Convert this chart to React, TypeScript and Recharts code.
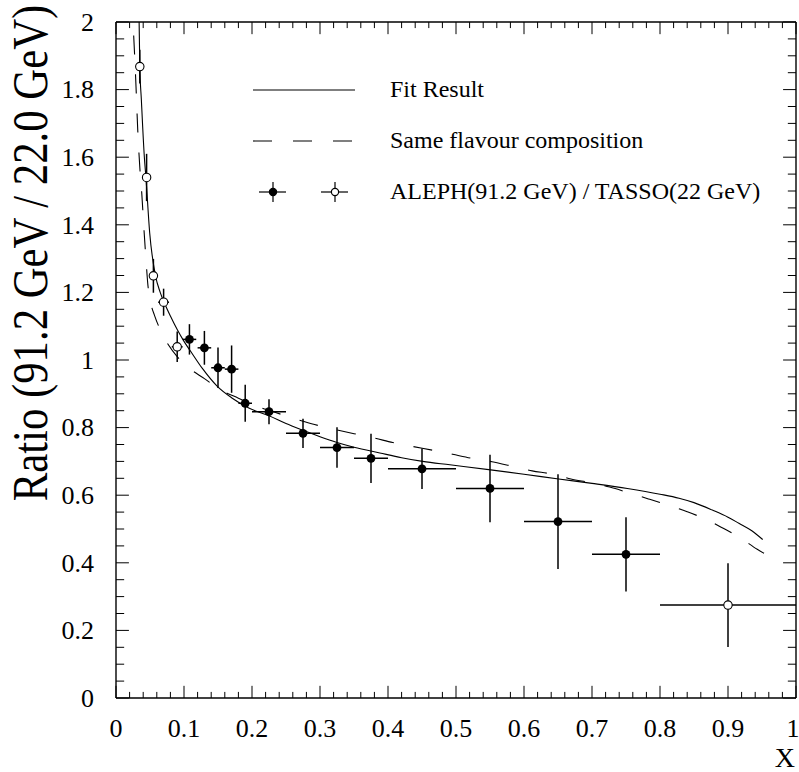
import {
  ComposedChart,
  Line,
  Scatter,
  XAxis,
  YAxis,
  ErrorBar,
  Legend,
  ReferenceLine,
} from "recharts";

const SERIF = "'Liberation Serif', 'Times New Roman', serif";

// axis ticks
const xMajorTicks = [0, 0.1, 0.2, 0.3, 0.4, 0.5, 0.6, 0.7, 0.8, 0.9, 1];
const xTickLabels = ["0", "0.1", "0.2", "0.3", "0.4", "0.5", "0.6", "0.7", "0.8", "0.9", "1"];
const yMajorTicks = [0, 0.2, 0.4, 0.6, 0.8, 1, 1.2, 1.4, 1.6, 1.8, 2];
const yTickLabels = ["0", "0.2", "0.4", "0.6", "0.8", "1", "1.2", "1.4", "1.6", "1.8", "2"];
const steps = (to: number, step: number) =>
  Array.from({ length: Math.round(to / step) + 1 }, (_, i) => +(i * step).toFixed(3));
const xMinorTicks = steps(1, 0.02);
const yMinorTicks = steps(2, 0.05);

// Fit Result (solid)
const fitX = [0.034, 0.035, 0.0373, 0.0417, 0.044, 0.0496, 0.058, 0.065, 0.072, 0.08, 0.09, 0.1, 0.11, 0.127, 0.149, 0.171, 0.196, 0.225, 0.25, 0.275, 0.3, 0.325, 0.35, 0.388, 0.42, 0.451, 0.491, 0.551, 0.6, 0.651, 0.7, 0.752, 0.8, 0.828, 0.85, 0.877, 0.9, 0.916, 0.935, 0.951];
const fitY = [2.0, 1.87, 1.77, 1.6, 1.54, 1.375, 1.25, 1.2, 1.165, 1.13, 1.09, 1.055, 1.025, 0.975, 0.922, 0.887, 0.857, 0.835, 0.812, 0.792, 0.773, 0.756, 0.742, 0.725, 0.711, 0.7, 0.69, 0.675, 0.662, 0.648, 0.635, 0.62, 0.603, 0.591, 0.578, 0.556, 0.535, 0.517, 0.495, 0.469];

// Same flavour composition (dashed)
const sameX = [0.026, 0.029, 0.032, 0.035, 0.038, 0.041, 0.044, 0.047, 0.051, 0.057, 0.065, 0.077, 0.09, 0.108, 0.13, 0.15, 0.18, 0.21, 0.228, 0.265, 0.292, 0.321, 0.35, 0.38, 0.407, 0.437, 0.466, 0.495, 0.524, 0.553, 0.582, 0.612, 0.64, 0.669, 0.698, 0.726, 0.754, 0.783, 0.811, 0.84, 0.866, 0.893, 0.918, 0.943, 0.953];
const sameY = [1.96, 1.83, 1.68, 1.57, 1.49, 1.39, 1.3, 1.22, 1.17, 1.13, 1.09, 1.045, 1.01, 0.975, 0.945, 0.916, 0.887, 0.861, 0.849, 0.825, 0.809, 0.795, 0.782, 0.769, 0.756, 0.744, 0.733, 0.721, 0.709, 0.699, 0.686, 0.672, 0.663, 0.648, 0.637, 0.624, 0.607, 0.589, 0.571, 0.551, 0.53, 0.502, 0.474, 0.44, 0.428];

// ALEPH / TASSO ratio (filled points)
const alephX = [0.108, 0.13, 0.15, 0.17, 0.19, 0.225, 0.275, 0.325, 0.375, 0.45, 0.55, 0.65, 0.75];
const alephY = [1.061, 1.036, 0.977, 0.973, 0.872, 0.847, 0.783, 0.741, 0.709, 0.678, 0.62, 0.522, 0.425];
const alephErrY = [0.045, 0.05, 0.06, 0.07, 0.055, 0.037, 0.043, 0.06, 0.073, 0.06, 0.1, 0.14, 0.11];
const alephErrX = [0.01, 0.01, 0.01, 0.01, 0.01, 0.025, 0.025, 0.025, 0.025, 0.05, 0.05, 0.05, 0.05];

// open points
const tassoX = [0.035, 0.045, 0.055, 0.07, 0.09, 0.9];
const tassoY = [1.868, 1.54, 1.249, 1.171, 1.039, 0.275];
const tassoErrY = [0.05, 0.07, 0.05, 0.04, 0.045, 0.124];
const tassoErrX = [0.004, 0.004, 0.005, 0.008, 0.008, 0.1];

const legendLabels = [
  "Fit Result",
  "Same flavour composition",
  "ALEPH(91.2 GeV) / TASSO(22 GeV)",
];

const fitData = fitX.map((x, i) => ({ x, y: fitY[i] }));
const sameData = sameX.map((x, i) => ({ x, y: sameY[i] }));
const alephData = alephX.map((x, i) => ({ x, y: alephY[i], ex: alephErrX[i], ey: alephErrY[i] }));
const tassoData = tassoX.map((x, i) => ({ x, y: tassoY[i], ex: tassoErrX[i], ey: tassoErrY[i] }));

// inward tick lengths, in data units (x: ~680px per unit, y: ~338px per unit)
const isMajor = (v: number, step: number) => Math.abs(v / step - Math.round(v / step)) < 1e-6;
const xTickLen = (v: number) => (isMajor(v, 0.1) ? 0.036 : 0.018);
const yTickLen = (v: number) => (isMajor(v, 0.2) ? 0.019 : 0.012);

const XLabelTick = ({ x, y, index }: any) => (
  <text x={index === xTickLabels.length - 1 ? x - 3 : x} y={y} textAnchor="middle"
    fontFamily={SERIF} fontSize={26} fill="#000">
    {xTickLabels[index]}
  </text>
);

const YLabelTick = ({ x, y, index }: any) => (
  <text x={x} y={y} dy="0.34em" textAnchor="end" fontFamily={SERIF} fontSize={26} fill="#000">
    {yTickLabels[index]}
  </text>
);

const FilledDot = ({ cx, cy }: any) => <circle cx={cx} cy={cy} r={4.4} fill="#000" />;
const OpenDot = ({ cx, cy }: any) => (
  <circle cx={cx} cy={cy} r={4.2} fill="#fff" stroke="#000" strokeWidth={1.1} />
);

const LegendIcon = ({ i }: { i: number }) => {
  if (i === 0) return <line x1={0} x2={102} y1={12} y2={12} stroke="#000" strokeWidth={1.1} />;
  if (i === 1)
    return (
      <line x1={0} x2={102} y1={12} y2={12} stroke="#000" strokeWidth={1.1} strokeDasharray="19 21" />
    );
  return (
    <g stroke="#000" strokeWidth={1.2}>
      <line x1={6} x2={33} y1={12} y2={12} />
      <line x1={20} x2={20} y1={2} y2={22} />
      <circle cx={20} cy={12} r={3.6} fill="#000" />
      <line x1={68} x2={95} y1={12} y2={12} />
      <line x1={82} x2={82} y1={2} y2={22} />
      <circle cx={82} cy={12} r={3.6} fill="#fff" />
    </g>
  );
};

const LegendBox = () => (
  <div style={{ fontFamily: SERIF, fontSize: 24, color: "#000" }}>
    {legendLabels.map((label, i) => (
      <div key={label} style={{ display: "flex", alignItems: "center", height: 51 }}>
        <svg width={137} height={24} style={{ flex: "none" }}>
          <LegendIcon i={i} />
        </svg>
        <span style={{ whiteSpace: "nowrap" }}>{label}</span>
      </div>
    ))}
  </div>
);

const frame = { stroke: "#000", strokeWidth: 1.4 };

export default function App() {
  return (
    <div style={{ position: "absolute", left: 0, top: 0, width: 799, height: 772, background: "#fff" }}>
      <ComposedChart width={799} height={772} margin={{ top: 22, right: 3, left: 0, bottom: 0 }}>
        <XAxis xAxisId="x" dataKey="x" type="number" domain={[0, 1]} allowDataOverflow
          ticks={xMajorTicks} interval={0} height={74} tickSize={0} tickMargin={39}
          tickLine={false} axisLine={false} tick={XLabelTick} />
        <YAxis yAxisId="y" dataKey="y" type="number" domain={[0, 2]} allowDataOverflow
          ticks={yMajorTicks} interval={0} width={116} tickSize={0} tickMargin={22}
          tickLine={false} axisLine={false} tick={YLabelTick} />

        {/* frame */}
        <ReferenceLine xAxisId="x" yAxisId="y" y={0} ifOverflow="visible" {...frame} />
        <ReferenceLine xAxisId="x" yAxisId="y" y={2} ifOverflow="visible" {...frame} />
        <ReferenceLine xAxisId="x" yAxisId="y" x={0} ifOverflow="visible" {...frame} />
        <ReferenceLine xAxisId="x" yAxisId="y" x={1} ifOverflow="visible" {...frame} />

        {/* inward ticks on all four sides */}
        {xMinorTicks.map((v) => (
          <ReferenceLine key={`b${v}`} xAxisId="x" yAxisId="y" ifOverflow="visible" stroke="#000" strokeWidth={1}
            segment={[{ x: v, y: 0 }, { x: v, y: xTickLen(v) }]} />
        ))}
        {xMinorTicks.map((v) => (
          <ReferenceLine key={`t${v}`} xAxisId="x" yAxisId="y" ifOverflow="visible" stroke="#000" strokeWidth={1}
            segment={[{ x: v, y: 2 }, { x: v, y: 2 - xTickLen(v) }]} />
        ))}
        {yMinorTicks.map((v) => (
          <ReferenceLine key={`l${v}`} xAxisId="x" yAxisId="y" ifOverflow="visible" stroke="#000" strokeWidth={1}
            segment={[{ x: 0, y: v }, { x: yTickLen(v), y: v }]} />
        ))}
        {yMinorTicks.map((v) => (
          <ReferenceLine key={`r${v}`} xAxisId="x" yAxisId="y" ifOverflow="visible" stroke="#000" strokeWidth={1}
            segment={[{ x: 1, y: v }, { x: 1 - yTickLen(v), y: v }]} />
        ))}

        <Legend layout="vertical" align="center" verticalAlign="middle" content={LegendBox}
          wrapperStyle={{ left: 253, top: 64, width: 530, height: 160 }} />

        <Line xAxisId="x" yAxisId="y" data={fitData} dataKey="y" type="monotone" stroke="#000"
          strokeWidth={1.1} dot={false} isAnimationActive={false} />
        <Line xAxisId="x" yAxisId="y" data={sameData} dataKey="y" type="monotone" stroke="#000"
          strokeWidth={1.1} strokeDasharray="19 20" dot={false} isAnimationActive={false} />

        <Scatter xAxisId="x" yAxisId="y" data={alephData} dataKey="y" shape={FilledDot} isAnimationActive={false}>
          <ErrorBar dataKey="ey" direction="y" width={0} stroke="#000" strokeWidth={1.5} isAnimationActive={false} />
          <ErrorBar dataKey="ex" direction="x" width={0} stroke="#000" strokeWidth={1.5} isAnimationActive={false} />
        </Scatter>
        <Scatter xAxisId="x" yAxisId="y" data={tassoData} dataKey="y" shape={OpenDot} isAnimationActive={false}>
          <ErrorBar dataKey="ey" direction="y" width={0} stroke="#000" strokeWidth={1.5} isAnimationActive={false} />
          <ErrorBar dataKey="ex" direction="x" width={0} stroke="#000" strokeWidth={1.5} isAnimationActive={false} />
        </Scatter>
      </ComposedChart>

      <svg width={799} height={772} style={{ position: "absolute", left: 0, top: 0, pointerEvents: "none" }}>
        <text transform="translate(47,253) rotate(-90) scale(0.855,1)" textAnchor="middle"
          fontFamily={SERIF} fontSize={50} fill="#000">
          Ratio (91.2 GeV / 22.0 GeV)
        </text>
        <text x={795} y={767} textAnchor="end" fontFamily={SERIF} fontSize={28} fill="#000">
          X
        </text>
      </svg>
    </div>
  );
}
